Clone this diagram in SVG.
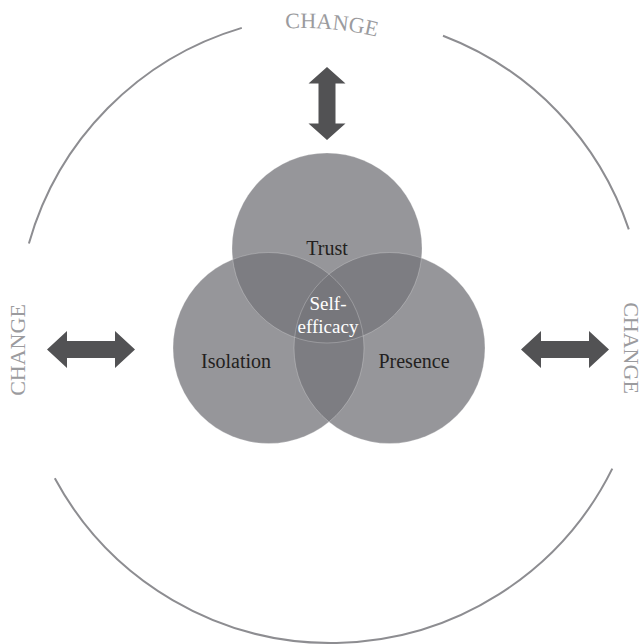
<svg xmlns="http://www.w3.org/2000/svg" width="644" height="644" viewBox="0 0 644 644">
<style>
.ring{fill:none;stroke:#8d8d91;stroke-width:2;stroke-linecap:butt}
.chg{font-family:"Liberation Serif","Times New Roman",serif;font-size:22px;fill:#9b9b9e}
.arw{fill:#525254}
.venn{fill:#75757a;fill-opacity:0.76}
.edge{fill:none;stroke:#ffffff;stroke-opacity:0.3;stroke-width:0.8}
.lbl{font-family:"Liberation Serif","Times New Roman",serif;font-size:20px;fill:#231f20;text-anchor:middle}
.lblw{font-family:"Liberation Serif","Times New Roman",serif;font-size:19px;fill:#ffffff;text-anchor:middle}
</style>
<defs>
<path id="topArc" d="M 154,68.5 A 302 302 0 0 1 536.3,135.9"/>
<path id="arrowH" d="M0,0 L20,-18.5 L20,-8.5 L68,-8.5 L68,-18.5 L88,0 L68,18.5 L68,8.5 L20,8.5 L20,18.5 Z"/>
</defs>
<g id="ring">
<path class="ring" d="M 28.9,243.5 A 314 314 0 0 1 241.8,27.9"/>
<path class="ring" d="M 443,35.7 A 314 314 0 0 1 628.8,229.4"/>
<path class="ring" d="M 612.3,468.6 A 314 314 0 0 1 54.8,478.3"/>
</g>
<g id="change-labels">
<text class="chg" text-anchor="middle"><textPath href="#topArc" startOffset="43.75%">CHANGE</textPath></text>
<text class="chg" text-anchor="middle" transform="translate(25,350) rotate(-90)">CHANGE</text>
<text class="chg" text-anchor="middle" transform="translate(624,348) rotate(90)">CHANGE</text>
</g>
<g id="connectors">
<use href="#arrowH" class="arw" transform="translate(47,349.5)"/>
<use href="#arrowH" class="arw" transform="translate(521,349.5)"/>
<use href="#arrowH" class="arw" transform="translate(327,67) rotate(90) scale(0.83,1)"/>
</g>
<g id="trust">
<circle class="venn" cx="327" cy="248" r="95"/>
</g>
<g id="isolation">
<circle class="venn" cx="268.5" cy="348" r="95.5"/>
</g>
<g id="presence">
<circle class="venn" cx="389.5" cy="348" r="95.5"/>
</g>
<g id="edges">
<circle class="edge" cx="327" cy="248" r="95"/>
<circle class="edge" cx="268.5" cy="348" r="95.5"/>
<circle class="edge" cx="389.5" cy="348" r="95.5"/>
</g>
<g id="labels">
<text class="lbl" x="327" y="255">Trust</text>
<text class="lbl" x="236" y="368">Isolation</text>
<text class="lbl" x="414" y="368">Presence</text>
<text class="lblw" x="328" y="310">Self-</text>
<text class="lblw" x="328" y="333">efficacy</text>
</g>
</svg>
